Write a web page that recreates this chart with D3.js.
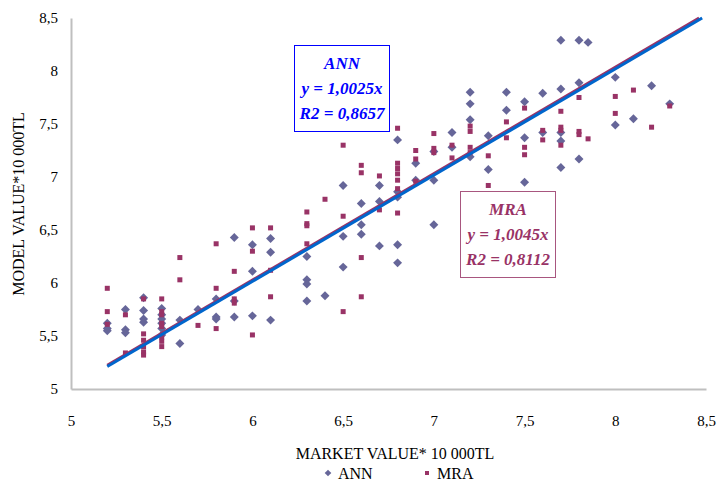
<!DOCTYPE html>
<html><head><meta charset="utf-8">
<script src="https://cdn.jsdelivr.net/npm/d3@7"></script>
<style>
html,body{margin:0;padding:0;background:#fff;}
svg{display:block;}
text{font-family:"Liberation Serif","Times New Roman",serif;}
</style></head>
<body><svg id="c" width="717" height="481"></svg>
<script>
// ---- data ----
const xTicks = [5, 5.5, 6, 6.5, 7, 7.5, 8, 8.5];
const yTicks = [5, 5.5, 6, 6.5, 7, 7.5, 8, 8.5];
const seriesNames = ["ANN", "MRA"];
const annData = [
[5.2,5.62],[5.2,5.57],[5.2,5.55],
[5.3,5.75],[5.3,5.56],[5.3,5.53],
[5.4,5.86],[5.4,5.74],[5.4,5.66],[5.4,5.63],
[5.5,5.76],[5.5,5.70],[5.5,5.66],[5.5,5.62],[5.5,5.57],[5.5,5.51],
[5.6,5.65],[5.6,5.43],
[5.7,5.75],
[5.8,5.85],[5.8,5.68],[5.8,5.66],
[5.9,6.43],[5.9,5.83],[5.9,5.68],
[6.0,6.36],[6.0,6.11],[6.0,5.69],
[6.1,6.42],[6.1,6.29],[6.1,5.65],
[6.3,6.25],[6.3,6.03],[6.3,5.99],[6.3,5.83],
[6.4,5.88],
[6.5,6.92],[6.5,6.44],[6.5,6.15],
[6.6,6.75],[6.6,6.55],[6.6,6.46],
[6.7,6.92],[6.7,6.77],[6.7,6.35],
[6.8,7.35],[6.8,6.86],[6.8,6.81],[6.8,6.36],[6.8,6.19],
[6.9,7.13],[6.9,6.97],
[7.0,7.24],[7.0,6.97],[7.0,6.55],
[7.1,7.42],[7.1,7.28],
[7.2,7.80],[7.2,7.69],[7.2,7.54],[7.2,7.19],
[7.3,7.39],[7.3,7.07],
[7.4,7.80],[7.4,7.63],
[7.5,7.71],[7.5,7.37],[7.5,6.95],
[7.6,7.79],[7.6,7.42],
[7.7,8.29],[7.7,7.83],[7.7,7.42],[7.7,7.34],[7.7,7.09],
[7.8,8.29],[7.8,7.89],[7.8,7.17],
[7.85,8.27],
[8.0,7.94],[8.0,7.49],
[8.1,7.55],
[8.2,7.86],
[8.3,7.69]
];
const mraData = [
[5.2,5.95],[5.2,5.73],[5.2,5.61],
[5.3,5.70],[5.3,5.34],
[5.4,5.85],[5.4,5.52],[5.4,5.46],[5.4,5.40],[5.4,5.35],[5.4,5.32],
[5.5,5.85],[5.5,5.73],[5.5,5.70],[5.5,5.62],[5.5,5.59],[5.5,5.49],[5.5,5.45],[5.5,5.40],
[5.6,6.24],[5.6,6.03],
[5.7,5.60],
[5.8,6.37],[5.8,5.95],[5.8,5.57],
[5.9,6.11],[5.9,5.85],[5.9,5.81],
[6.0,6.52],[6.0,6.30],[6.0,5.51],
[6.1,6.52],[6.1,6.12],[6.1,5.87],
[6.3,6.67],[6.3,6.56],[6.3,6.54],[6.3,6.37],
[6.4,6.79],
[6.5,7.30],[6.5,6.63],[6.5,5.73],
[6.6,7.11],[6.6,7.04],[6.6,6.24],[6.6,5.87],
[6.7,7.01],[6.7,6.69],
[6.8,7.46],[6.8,7.13],[6.8,7.08],[6.8,7.03],[6.8,6.97],[6.8,6.89],[6.8,6.66],
[6.9,7.25],[6.9,7.17],[6.9,6.96],
[7.0,7.41],[7.0,7.27],[7.0,7.23],
[7.1,7.30],[7.1,7.18],
[7.2,7.48],[7.2,7.43],[7.2,7.28],[7.2,7.23],
[7.3,7.20],[7.3,6.92],
[7.4,7.52],[7.4,7.37],
[7.5,7.65],[7.5,7.28],[7.5,7.21],
[7.6,7.44],[7.6,7.35],
[7.7,7.62],[7.7,7.47],[7.7,7.44],[7.7,7.30],
[7.8,7.75],[7.8,7.43],[7.8,7.40],
[7.85,7.36],
[8.0,7.76],[8.0,7.60],
[8.1,7.82],
[8.2,7.47],
[8.3,7.67]
];
const trendSlopes = [1.0025, 1.0045];
const trendR2 = ["0,8657", "0,8112"];
const trendStart = 5.2;

// ---- drawing ----
const svg = d3.select("#c");
const x = d3.scaleLinear().domain([5, 8.5]).range([71, 706]);
const y = d3.scaleLinear().domain([5, 8.5]).range([389, 18]);
const fmt = d => String(d).replace(".", ",");

const ANN_C = "#666699", MRA_C = "#993366", BLUE_L = "#0066cc";

// axes
const gx = svg.append("g").attr("transform", "translate(0,389)")
  .call(d3.axisBottom(x).tickValues(xTicks).tickFormat(fmt).tickSize(0).tickPadding(26));
const gy = svg.append("g").attr("transform", "translate(71,0)")
  .call(d3.axisLeft(y).tickValues(yTicks).tickFormat(fmt).tickSize(0).tickPadding(13));
[gx, gy].forEach(g => {
  g.select(".domain").attr("stroke", "#bfbfbf").attr("stroke-width", 2);
  g.selectAll("text").attr("font-family", "Liberation Serif").attr("font-size", 15).attr("fill", "#000");
});

// markers
svg.append("g").selectAll("path").data(annData).join("path")
  .attr("d", d3.symbol(d3.symbolSquare, 40)())
  .attr("transform", d => `translate(${x(d[0])},${y(d[1])}) rotate(45)`)
  .attr("fill", ANN_C);
svg.append("g").selectAll("rect").data(mraData).join("rect")
  .attr("x", d => x(d[0]) - 2.5).attr("y", d => y(d[1]) - 2.5)
  .attr("width", 5).attr("height", 5).attr("fill", MRA_C);

// trend lines (clipped at top of plot)
const colsL = [BLUE_L, MRA_C];
const order = [1, 0];
order.forEach(i => {
  const k = trendSlopes[i];
  const xEnd = 8.5 / k;
  svg.append("line")
    .attr("x1", x(trendStart)).attr("y1", y(k * trendStart))
    .attr("x2", x(xEnd)).attr("y2", y(k * xEnd))
    .attr("stroke", colsL[i]).attr("stroke-width", 3);
});

// equation boxes
function box(x0, y0, w, h, border, color, lines, ys) {
  svg.append("rect").attr("x", x0).attr("y", y0).attr("width", w).attr("height", h)
    .attr("fill", "#fff").attr("stroke", border).attr("stroke-width", 1);
  lines.forEach((t, i) => {
    svg.append("text").attr("x", x0 + w / 2).attr("y", ys[i]).attr("text-anchor", "middle")
      .attr("dy", "0.35em").attr("font-size", 17).attr("font-weight", "bold").attr("font-style", "italic")
      .attr("fill", color).text(t);
  });
}
box(294.5, 45.5, 95, 86, "#0000ff", "#0000ff",
  [seriesNames[0], `y = ${fmt(trendSlopes[0])}x`, `R2 = ${trendR2[0]}`], [63, 88, 113]);
box(460.5, 191.5, 95, 86, "#a8567f", MRA_C,
  [seriesNames[1], `y = ${fmt(trendSlopes[1])}x`, `R2 = ${trendR2[1]}`], [209, 234, 259]);

// axis titles
svg.append("text").attr("x", 395).attr("y", 453).attr("dy", "0.35em").attr("text-anchor", "middle")
  .attr("font-size", 16).attr("fill", "#000").text("MARKET VALUE* 10 000TL");
svg.append("text").attr("transform", "translate(18,204) rotate(-90)").attr("dy", "0.35em")
  .attr("text-anchor", "middle").attr("font-size", 16).attr("fill", "#000").text("MODEL VALUE*10 000TL");

// legend
const lg = svg.append("g");
lg.append("path").attr("d", d3.symbol(d3.symbolSquare, 22)())
  .attr("transform", "translate(328,473) rotate(45)").attr("fill", ANN_C);
lg.append("text").attr("x", 338).attr("y", 473).attr("dy", "0.35em").attr("font-size", 16).text(seriesNames[0]);
lg.append("rect").attr("x", 425).attr("y", 471).attr("width", 4).attr("height", 4).attr("fill", MRA_C);
lg.append("text").attr("x", 437).attr("y", 473).attr("dy", "0.35em").attr("font-size", 16).text(seriesNames[1]);
</script></body></html>
